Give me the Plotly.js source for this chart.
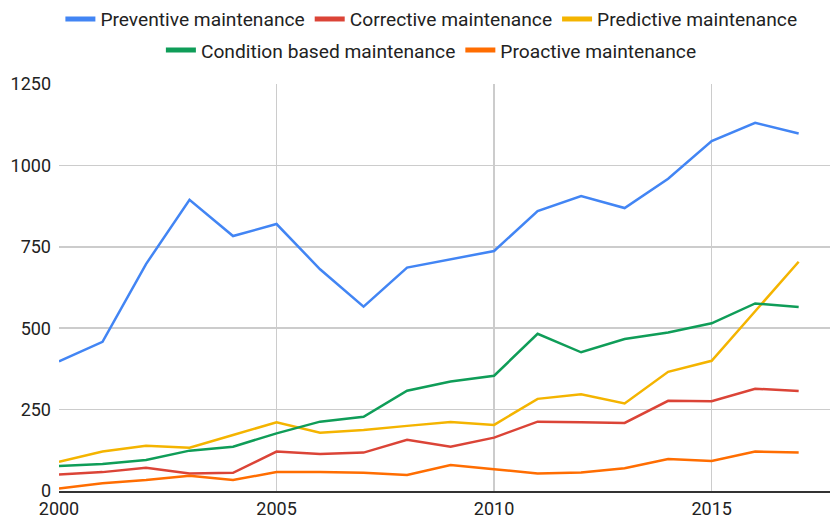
<!DOCTYPE html>
<html>
<head>
<meta charset="utf-8">
<script src="https://cdn.plot.ly/plotly-3.0.1.min.js"></script>
<style>html,body{margin:0;padding:0;background:#fff}#chart{width:830px;height:519px}</style>
</head>
<body>
<div id="chart"></div>
<script>
var years = [2000,2001,2002,2003,2004,2005,2006,2007,2008,2009,2010,2011,2012,2013,2014,2015,2016,2017];
var seriesNames = ["Preventive maintenance","Corrective maintenance","Predictive maintenance","Condition based maintenance","Proactive maintenance"];
var preventive = [398,458,697,894,783,820,681,566,686,711,737,860,906,869,959,1075,1131,1098];
var corrective = [51,58,71,54,56,121,114,118,157,136,164,213,211,209,277,276,314,307];
var predictive = [90,121,139,133,172,211,179,187,200,212,203,283,297,269,366,400,552,704];
var conditionBased = [77,83,95,124,136,177,213,228,308,336,354,483,426,467,487,515,576,565];
var proactive = [8,24,34,47,34,58,58,56,49,80,67,54,57,70,98,92,121,118];
var colors = ["#4285F4","#DB4437","#F4B400","#0F9D58","#FF6D01"];
var yTicks = [0,250,500,750,1000,1250];
var xTicks = [2000,2005,2010,2015];

var values = [preventive, corrective, predictive, conditionBased, proactive];
var legendIds = ["legend","legend","legend","legend2","legend2"];
var traces = values.map(function(v, i){
  return {
    x: years, y: v, name: seriesNames[i], type: "scatter", mode: "lines",
    line: {color: colors[i], width: 2.5},
    showlegend: false, hoverinfo: "skip"
  };
});
// legend entries (thicker swatches, like the reference)
seriesNames.forEach(function(n, i){
  traces.push({
    x: [null], y: [null], name: n, type: "scatter", mode: "lines",
    line: {color: colors[i], width: 5},
    legend: legendIds[i], showlegend: true
  });
});

var legendFont = {family: "Roboto, sans-serif", size: 19.2, color: "#222"};
var layout = {
  width: 830, height: 519,
  margin: {l: 59, r: 0, t: 84, b: 28, pad: 0},
  paper_bgcolor: "#fff", plot_bgcolor: "#fff",
  font: {family: "Roboto, sans-serif", size: 18, color: "#222"},
  showlegend: true,
  legend: {orientation: "h", x: 0.483, xanchor: "center", y: 1, yref: "container", yanchor: "top",
           font: legendFont, bgcolor: "rgba(0,0,0,0)", traceorder: "normal", itemwidth: 30},
  legend2: {orientation: "h", x: 0.483, xanchor: "center", y: 0.94, yref: "container", yanchor: "top",
           font: legendFont, bgcolor: "rgba(0,0,0,0)", traceorder: "normal", itemwidth: 30},
  xaxis: {
    range: [2000, 2017.72], tickvals: xTicks, ticktext: xTicks.map(String),
    showgrid: true, gridcolor: "#cccccc", gridwidth: 1.5,
    showline: true, linecolor: "#333", linewidth: 2,
    zeroline: false, ticks: "", tickfont: {size: 18, color: "#222"}
  },
  yaxis: {
    range: [0, 1250], tickvals: yTicks, ticktext: yTicks.map(String),
    showgrid: true, gridcolor: "#cccccc", gridwidth: 1.5,
    zeroline: false, showline: false, ticks: "", ticklabelstandoff: 7,
    tickfont: {size: 18, color: "#222"}
  }
};
Plotly.newPlot("chart", traces, layout, {displayModeBar: false, staticPlot: true});
</script>
</body>
</html>
